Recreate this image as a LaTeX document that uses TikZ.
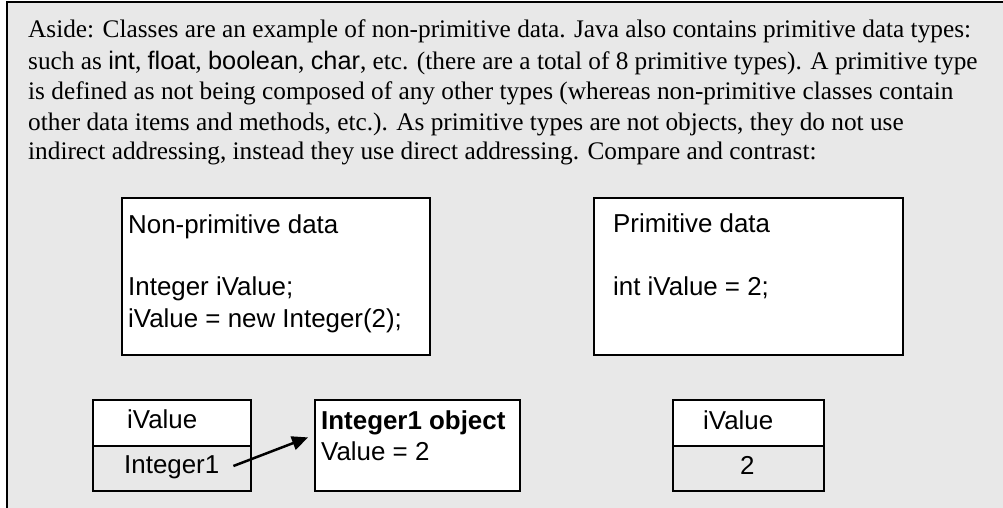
\documentclass[tikz,border=0pt]{standalone}
\usepackage{fontspec}
\setmainfont{Liberation Serif}
\setsansfont{Liberation Sans}
\usetikzlibrary{arrows.meta}
\definecolor{panelgray}{RGB}{232,232,232}
\newcommand{\bodysize}{\fontsize{25.3}{30}\selectfont}
\newcommand{\boxsize}{\fontsize{25.9}{30}\selectfont}
\newcommand{\code}[1]{{\sffamily\fontsize{25.3}{30}\selectfont #1}}
\begin{document}
\begin{tikzpicture}[x=1pt,y=-1pt,
  para/.style={anchor=base west,inner sep=0pt,font=\bodysize},
  stext/.style={anchor=base west,inner sep=0pt,font=\sffamily\boxsize},
  panel/.style={draw,line width=1.8pt,fill=white,anchor=north west,inner sep=0pt},
  cellw/.style={draw,line width=1.8pt,fill=white,anchor=north west,inner sep=0pt},
  cellg/.style={draw,line width=1.8pt,fill=panelgray,anchor=north west,inner sep=0pt},
  pointer/.style={line width=2.5pt,-{Triangle[length=16pt,width=14pt]}}
]
\useasboundingbox (0,0) rectangle (1003,508);
\fill[white] (0,0) rectangle (1003,508);
% grey frame: only its top and left borders fall on the page
\fill[panelgray] (7,2) rectangle (1003,508);
\draw[line width=2.5pt] (1003,2) -- (7,2) -- (7,508);

% explanatory paragraph
\node[para] (l1) at (28,38) {Aside: Classes are an example of non-primitive data. Java also contains primitive data types:};
\node[para] (l2) at (28,70) {such as \code{int}, \code{float}, \code{boolean}, \code{char}, etc. (there are a total of 8 primitive types). A primitive type};
\node[para] (l3) at (28,100) {is defined as not being composed of any other types (whereas non-primitive classes contain};
\node[para] (l4) at (28,130) {other data items and methods, etc.). As primitive types are not objects, they do not use};
\node[para] (l5) at (28,159) {indirect addressing, instead they use direct addressing. Compare and contrast:};

% code panels
\node[panel,minimum width=308pt,minimum height=157pt] (np) at (121,197) {};
\node[stext] (npt) at (128,233) {Non-primitive data};
\node[stext] (npa) at (128,295) {Integer iValue;};
\node[stext] (npb) at (128,327) {iValue = new Integer(2);};

\node[panel,minimum width=309pt,minimum height=157pt] (pr) at (593,197) {};
\node[stext] (prt) at (613,232) {Primitive data};
\node[stext] (pra) at (613,295) {int iValue = 2;};

% reference variable and the object it points to
\node[cellw,minimum width=158pt,minimum height=46pt] (rv) at (92,399) {};
\node[cellg,minimum width=158pt,minimum height=45pt] (rvv) at (92,445) {};
\node[stext] (rvn) at (127,428) {iValue};
\node[stext] (rvx) at (124,473) {Integer1};

\node[panel,minimum width=205pt,minimum height=91pt] (obj) at (314,399) {};
\node[stext,font=\sffamily\bfseries\boxsize] (objt) at (321,429) {Integer1 object};
\node[stext] (objv) at (321,460) {Value = 2};

\draw[pointer] ([xshift=14pt,yshift=7pt]rvx.base east) -- ([xshift=-6pt,yshift=8pt]obj.west);

% primitive variable
\node[cellw,minimum width=151pt,minimum height=46pt] (pv) at (672,399) {};
\node[cellg,minimum width=151pt,minimum height=45pt] (pvv) at (672,445) {};
\node[stext] (pvn) at (703,429) {iValue};
\node[stext] (pvx) at (740,474) {2};
\end{tikzpicture}
\end{document}
